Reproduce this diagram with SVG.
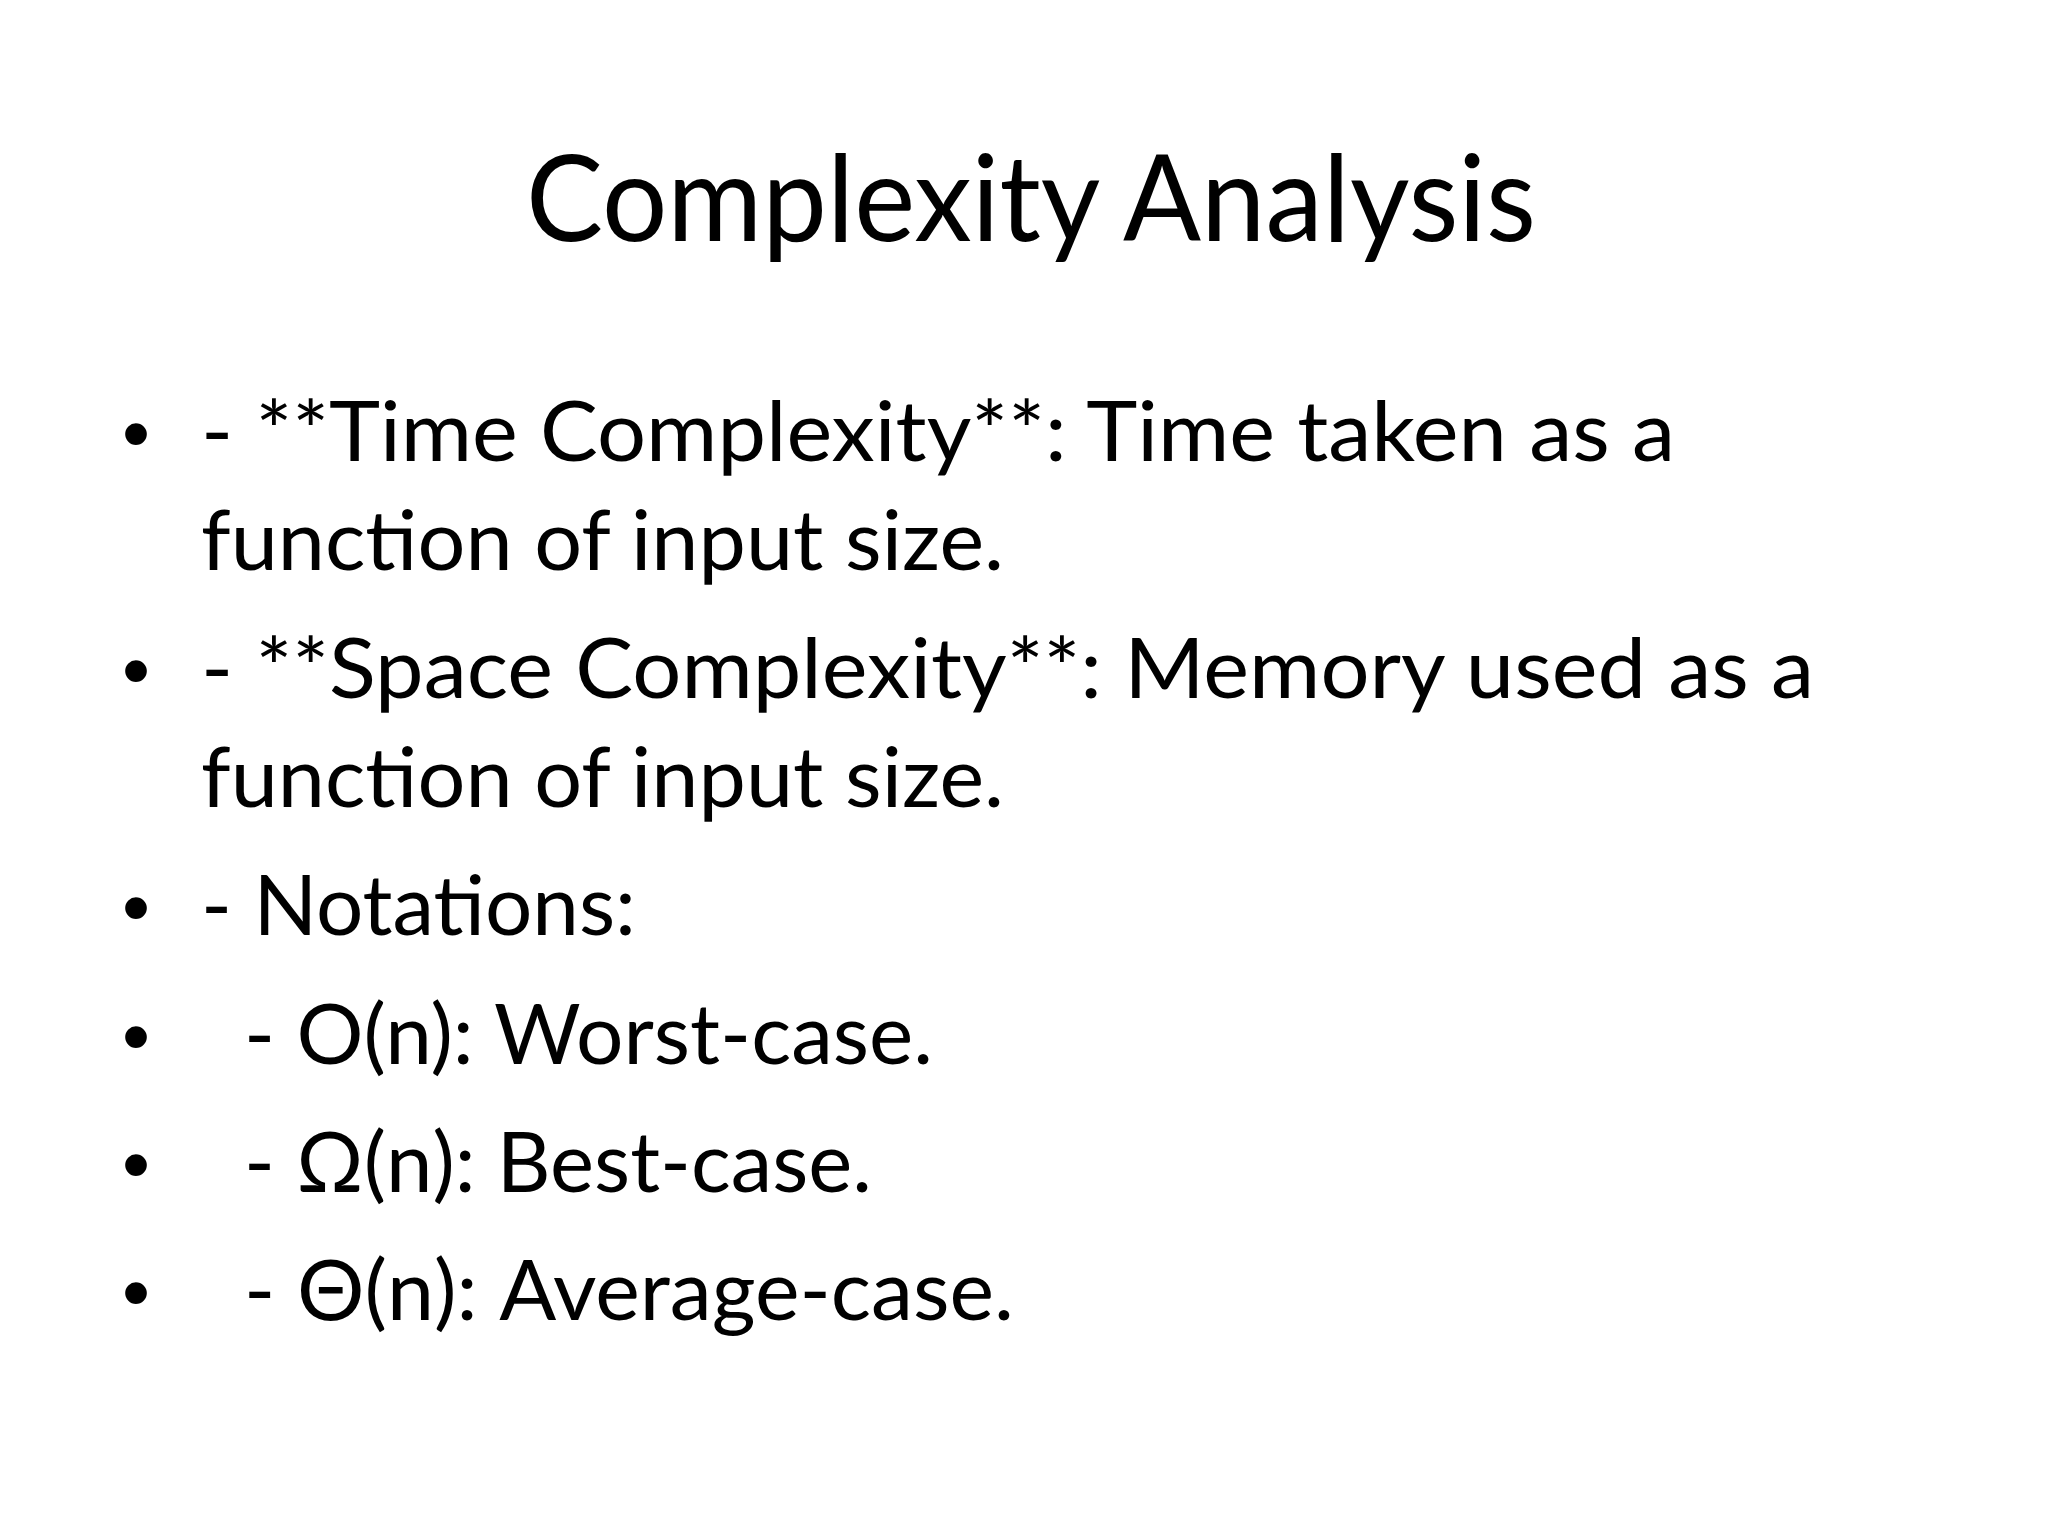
<svg xmlns="http://www.w3.org/2000/svg" width="2048" height="1536" viewBox="0 0 2048 1536">
<style>
text{font-family:Lato,"Open Sans","DejaVu Sans",sans-serif;fill:#000}
.t{font-size:120px}
.b{font-size:83px}
.d{font-size:80px;font-family:"Liberation Sans",sans-serif}
</style>
<rect width="2048" height="1536" fill="#fff"/>
<g id="title"><text class="t" x="1031" y="241" text-anchor="middle" textLength="1010" lengthAdjust="spacingAndGlyphs">Complexity Analysis</text></g>
<g id="body">
<text class="d" x="122" y="461">•</text>
<text class="b" x="201" y="461" textLength="1474" lengthAdjust="spacingAndGlyphs">- **Time Complexity**: Time taken as a</text>
<text class="b" x="201" y="570" textLength="803" lengthAdjust="spacingAndGlyphs">function of input size.</text>
<text class="d" x="122" y="698">•</text>
<text class="b" x="201" y="698" textLength="1613" lengthAdjust="spacingAndGlyphs">- **Space Complexity**: Memory used as a</text>
<text class="b" x="201" y="807" textLength="803" lengthAdjust="spacingAndGlyphs">function of input size.</text>
<text class="d" x="122" y="935">•</text>
<text class="b" x="201" y="935" textLength="435" lengthAdjust="spacingAndGlyphs">- Notations:</text>
<text class="d" x="122" y="1064">•</text>
<text class="b" x="244" y="1064" textLength="689" lengthAdjust="spacingAndGlyphs">- O(n): Worst-case.</text>
<text class="d" x="122" y="1192">•</text>
<text class="b" x="244" y="1192" textLength="628" lengthAdjust="spacingAndGlyphs">- Ω(n): Best-case.</text>
<text class="d" x="122" y="1320">•</text>
<text class="b" x="244" y="1320" textLength="770" lengthAdjust="spacingAndGlyphs">- Θ(n): Average-case.</text>
</g>
</svg>
